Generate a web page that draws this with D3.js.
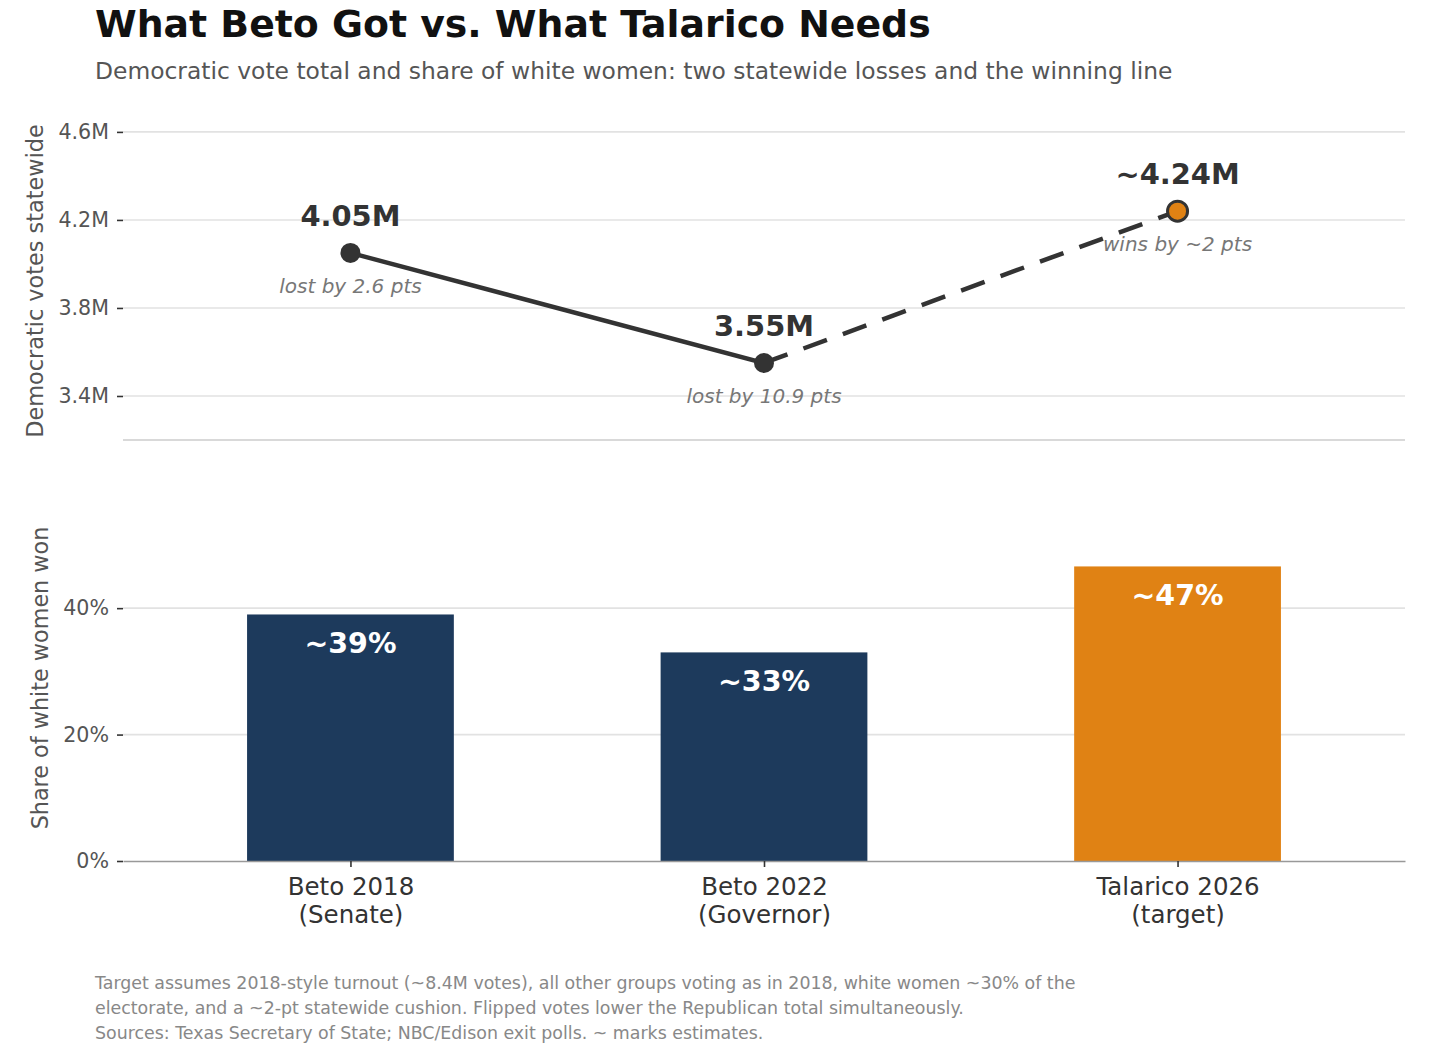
<!DOCTYPE html>
<html>
<head>
<meta charset="utf-8">
<script src="https://cdn.jsdelivr.net/npm/d3@7"></script>
<style>
  body { margin: 0; background: #fff; }
  text { font-family: "DejaVu Sans", sans-serif; }
</style>
</head>
<body>
<div id="chart"></div>
<script>
// data
var categories = [["Beto 2018", "(Senate)"], ["Beto 2022", "(Governor)"], ["Talarico 2026", "(target)"]];
var votesM = [4.05, 3.55, 4.24];
var voteLabels = ["4.05M", "3.55M", "~4.24M"];
var marginNotes = ["lost by 2.6 pts", "lost by 10.9 pts", "wins by ~2 pts"];
var whiteWomenShare = [39, 33, 46.6];
var shareLabels = ["~39%", "~33%", "~47%"];
var voteTicks = [3.4, 3.8, 4.2, 4.6];
var shareTicks = [0, 20, 40];
var footnote = [
  "Target assumes 2018-style turnout (~8.4M votes), all other groups voting as in 2018, white women ~30% of the",
  "electorate, and a ~2-pt statewide cushion. Flipped votes lower the Republican total simultaneously.",
  "Sources: Texas Secretary of State; NBC/Edison exit polls. ~ marks estimates."
];

var svgWidth = 1456;
var svgHeight = 1056;
var navy = "#1d3a5c";
var orange = "#e08214";
var ink = "#333333";

var svg = d3.select("#chart")
  .append("svg")
  .attr("width", svgWidth)
  .attr("height", svgHeight);

// shared x position (category index)
var xScale = d3.scaleLinear()
  .domain([-0.55, 2.55])
  .range([123, 1405]);
var idx = votesM.map(function(d, i) { return i; });

// title + subtitle
svg.append("text")
  .attr("x", 95).attr("y", 37)
  .style("font-size", "37.8px").style("font-weight", "bold").attr("fill", "#111")
  .text("What Beto Got vs. What Talarico Needs");
svg.append("text")
  .attr("x", 95).attr("y", 79)
  .style("font-size", "23.4px").attr("fill", "#555")
  .text("Democratic vote total and share of white women: two statewide losses and the winning line");

// ---------- top panel: vote totals ----------
var yVotes = d3.scaleLinear()
  .domain([3.2, 4.645])
  .range([440, 122]);

var topPanel = svg.append("g");

topPanel.selectAll("line.grid")
  .data(voteTicks)
  .enter().append("line")
  .attr("class", "grid")
  .attr("x1", xScale.range()[0]).attr("x2", xScale.range()[1])
  .attr("y1", d => yVotes(d)).attr("y2", d => yVotes(d))
  .attr("stroke", "#e2e2e2").attr("stroke-width", 1.6);

var leftVotes = d3.axisLeft(yVotes)
  .tickValues(voteTicks)
  .tickSize(6)
  .tickSizeOuter(0)
  .tickPadding(8)
  .tickFormat(d => d.toFixed(1) + "M");

var gv = topPanel.append("g")
  .attr("transform", "translate(" + xScale.range()[0] + ",0)")
  .call(leftVotes);
gv.select(".domain").remove();
gv.selectAll(".tick line").attr("stroke", ink).attr("stroke-width", 1.6);
gv.selectAll(".tick text").attr("fill", "#555").style("font-size", "20.6px").style("font-family", "DejaVu Sans, sans-serif");

// bottom spine of top panel
topPanel.append("line")
  .attr("x1", xScale.range()[0]).attr("x2", xScale.range()[1])
  .attr("y1", yVotes(3.2)).attr("y2", yVotes(3.2))
  .attr("stroke", "#cccccc").attr("stroke-width", 1.6);

topPanel.append("text")
  .attr("transform", "translate(43," + ((yVotes.range()[0] + yVotes.range()[1]) / 2) + ") rotate(-90)")
  .attr("text-anchor", "middle")
  .style("font-size", "22.4px").attr("fill", "#555")
  .text("Democratic votes statewide");

var lineGen = d3.line()
  .x(i => xScale(i))
  .y(i => yVotes(votesM[i]));

topPanel.append("path")
  .datum([0, 1])
  .attr("d", lineGen)
  .attr("fill", "none").attr("stroke", ink).attr("stroke-width", 4.5);

topPanel.append("path")
  .datum([1, 2])
  .attr("d", lineGen)
  .attr("fill", "none").attr("stroke", ink).attr("stroke-width", 4.5)
  .attr("stroke-dasharray", "25,17");

topPanel.selectAll("circle")
  .data(idx)
  .enter().append("circle")
  .attr("cx", i => xScale(i))
  .attr("cy", i => yVotes(votesM[i]))
  .attr("r", 10)
  .attr("fill", i => i === 2 ? orange : ink)
  .attr("stroke", ink)
  .attr("stroke-width", i => i === 2 ? 3 : 0);

topPanel.selectAll("text.val")
  .data(idx)
  .enter().append("text")
  .attr("class", "val")
  .attr("x", i => xScale(i))
  .attr("y", i => yVotes(votesM[i]) - 27)
  .attr("text-anchor", "middle")
  .style("font-size", "28.9px").style("font-weight", "bold").attr("fill", ink)
  .text(i => voteLabels[i]);

topPanel.selectAll("text.note")
  .data(idx)
  .enter().append("text")
  .attr("class", "note")
  .attr("x", i => xScale(i))
  .attr("y", i => yVotes(votesM[i]) + 40)
  .attr("text-anchor", "middle")
  .style("font-size", "20px").style("font-style", "italic").attr("fill", "#777")
  .text(i => marginNotes[i]);

// ---------- bottom panel: share of white women ----------
var yShare = d3.scaleLinear()
  .domain([0, 57.9])
  .range([861, 495]);

var bottomPanel = svg.append("g");

bottomPanel.selectAll("line.grid")
  .data(shareTicks.filter(d => d > 0))
  .enter().append("line")
  .attr("class", "grid")
  .attr("x1", xScale.range()[0]).attr("x2", xScale.range()[1])
  .attr("y1", d => yShare(d)).attr("y2", d => yShare(d))
  .attr("stroke", "#e2e2e2").attr("stroke-width", 1.6);

var barWidth = xScale(0.5) - xScale(0);

bottomPanel.selectAll("rect")
  .data(idx)
  .enter().append("rect")
  .attr("x", i => xScale(i) - barWidth / 2)
  .attr("y", i => yShare(whiteWomenShare[i]))
  .attr("width", barWidth)
  .attr("height", i => yShare(0) - yShare(whiteWomenShare[i]))
  .attr("fill", i => i === 2 ? orange : navy);

bottomPanel.selectAll("text.bar")
  .data(idx)
  .enter().append("text")
  .attr("class", "bar")
  .attr("x", i => xScale(i))
  .attr("y", i => yShare(whiteWomenShare[i]) + 39)
  .attr("text-anchor", "middle")
  .style("font-size", "28.5px").style("font-weight", "bold").attr("fill", "#fff")
  .text(i => shareLabels[i]);

var leftShare = d3.axisLeft(yShare)
  .tickValues(shareTicks)
  .tickSize(6)
  .tickSizeOuter(0)
  .tickPadding(8)
  .tickFormat(d => d + "%");

var gs = bottomPanel.append("g")
  .attr("transform", "translate(" + xScale.range()[0] + ",0)")
  .call(leftShare);
gs.select(".domain").remove();
gs.selectAll(".tick line").attr("stroke", ink).attr("stroke-width", 1.6);
gs.selectAll(".tick text").attr("fill", "#555").style("font-size", "20.6px").style("font-family", "DejaVu Sans, sans-serif");

var bottomAxis = d3.axisBottom(xScale)
  .tickValues(idx)
  .tickSize(6)
  .tickSizeOuter(0)
  .tickFormat("");

var gx = bottomPanel.append("g")
  .attr("transform", "translate(0," + yShare(0) + ")")
  .call(bottomAxis);
gx.select(".domain").attr("stroke", "#999").attr("stroke-width", 1.6);
gx.selectAll(".tick line").attr("stroke", ink).attr("stroke-width", 1.6);

gx.selectAll(".tick").append("text")
  .attr("text-anchor", "middle")
  .attr("fill", ink)
  .style("font-size", "24.5px").style("font-family", "DejaVu Sans, sans-serif")
  .selectAll("tspan")
  .data(i => categories[i])
  .enter().append("tspan")
  .attr("x", 0)
  .attr("y", (d, j) => 34 + j * 28)
  .text(d => d);

bottomPanel.append("text")
  .attr("transform", "translate(48," + ((yShare.range()[0] + yShare.range()[1]) / 2) + ") rotate(-90)")
  .attr("text-anchor", "middle")
  .style("font-size", "22.3px").attr("fill", "#555")
  .text("Share of white women won");

// footnote
svg.append("text")
  .style("font-size", "17.4px").attr("fill", "#888")
  .selectAll("tspan")
  .data(footnote)
  .enter().append("tspan")
  .attr("x", 95)
  .attr("y", (d, j) => 989 + j * 25)
  .text(d => d);
</script>
</body>
</html>
